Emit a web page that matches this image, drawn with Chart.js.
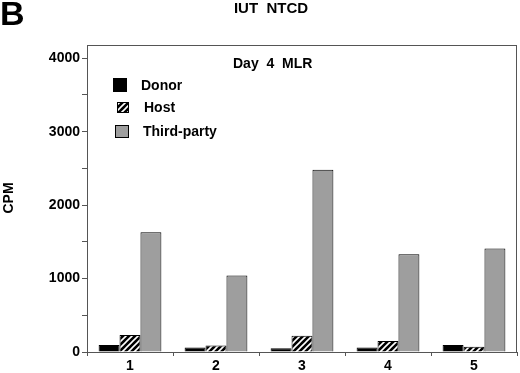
<!DOCTYPE html>
<html>
<head>
<meta charset="utf-8">
<script src="https://cdn.jsdelivr.net/npm/chart.js@4"></script>
<style>
  html, body { margin: 0; padding: 0; background: #fff; }
  #wrap { width: 520px; height: 373px; position: relative; }
</style>
</head>
<body>
<div id="wrap"><canvas id="chart"></canvas></div>
<script>
const categories = ["1", "2", "3", "4", "5"];
const donorValues = [95, 60, 50, 60, 95];
const hostValues = [230, 90, 220, 150, 70];
const thirdPartyValues = [1630, 1040, 2480, 1330, 1410];
const yTickLabels = [0, 1000, 2000, 3000, 4000];

const FONT = "'Liberation Sans', Arial, sans-serif";

// motif hachuré pour "Host"
function makeHatch() {
    const c = document.createElement("canvas");
    c.width = 6; c.height = 6;
    const g = c.getContext("2d");
    g.fillStyle = "#000";
    g.fillRect(0, 0, 6, 6);
    g.strokeStyle = "#fff";
    g.lineWidth = 1.6;
    g.beginPath();
    g.moveTo(0, 6); g.lineTo(6, 0);
    g.moveTo(-3, 3); g.lineTo(3, -3);
    g.moveTo(3, 9); g.lineTo(9, 3);
    g.stroke();
    return g.createPattern(c, "repeat");
}
const hatch = makeHatch();

const extras = {
    id: "extras",
    afterDraw(chart) {
        const {ctx, chartArea: a} = chart;
        ctx.save();
        // cadre
        ctx.strokeStyle = "#555";
        ctx.lineWidth = 1;
        ctx.strokeRect(a.left + 0.5, a.top + 0.5, a.right - a.left - 1, a.bottom - a.top);
        // textes
        ctx.fillStyle = "#000";
        ctx.textBaseline = "middle";
        ctx.font = "bold 34px " + FONT;
        ctx.textAlign = "left";
        ctx.fillText("B", 0, 16);
        ctx.font = "bold 15px " + FONT;
        ctx.textAlign = "center";
        ctx.fillText("IUT  NTCD", 271, 9);
        ctx.font = "bold 14px " + FONT;
        ctx.textAlign = "left";
        ctx.fillText("Day  4  MLR", 233, 64);
        ctx.save();
        ctx.translate(9, 198);
        ctx.rotate(-Math.PI / 2);
        ctx.textAlign = "center";
        ctx.fillText("CPM", 0, 0);
        ctx.restore();
        // légende
        const boxes = [[113, 78, 14, 14], [117, 102, 12, 11], [115, 125, 14, 13]];
        const textX = [141, 144, 143];
        chart.data.datasets.forEach((ds, i) => {
            const [bx, by, bw, bh] = boxes[i];
            ctx.fillStyle = ds.backgroundColor;
            ctx.fillRect(bx, by, bw, bh);
            ctx.strokeStyle = "#000";
            ctx.strokeRect(bx + 0.5, by + 0.5, bw - 1, bh - 1);
            ctx.fillStyle = "#000";
            ctx.fillText(ds.label, textX[i], by + bh / 2 + 1);
        });
        ctx.restore();
    }
};

new Chart(document.getElementById("chart"), {
    type: "bar",
    data: {
        labels: categories,
        datasets: [
            { label: "Donor", data: donorValues, backgroundColor: "#000" },
            { label: "Host", data: hostValues, backgroundColor: hatch },
            { label: "Third-party", data: thirdPartyValues, backgroundColor: "#9e9e9e" }
        ].map(d => Object.assign(d, { borderColor: "#000", borderWidth: 1, barPercentage: 1, categoryPercentage: 0.73 }))
    },
    options: {
        responsive: true,
        maintainAspectRatio: false,
        animation: false,
        layout: { padding: { top: 45, right: 3, left: 0, bottom: 0 } },
        plugins: { legend: { display: false }, tooltip: { enabled: false } },
        scales: {
            x: {
                grid: { drawOnChartArea: false, tickLength: 4, color: "#555" },
                border: { color: "#555" },
                ticks: { color: "#000", font: { family: FONT, size: 14, weight: "bold" }, padding: 2 },
                afterFit: s => { s.height = 21; }
            },
            y: {
                min: 0, max: 4180,
                afterBuildTicks: s => { s.ticks = []; for (let v = 0; v <= 4000; v += 500) s.ticks.push({ value: v }); },
                grid: { drawOnChartArea: false, tickLength: 5, color: "#555" },
                border: { color: "#555" },
                ticks: {
                    color: "#000", padding: 2,
                    font: { family: FONT, size: 14, weight: "bold" },
                    callback: v => yTickLabels.includes(v) ? String(v) : ""
                },
                afterFit: s => { s.width = 87; }
            }
        }
    },
    plugins: [extras]
});
</script>
</body>
</html>
